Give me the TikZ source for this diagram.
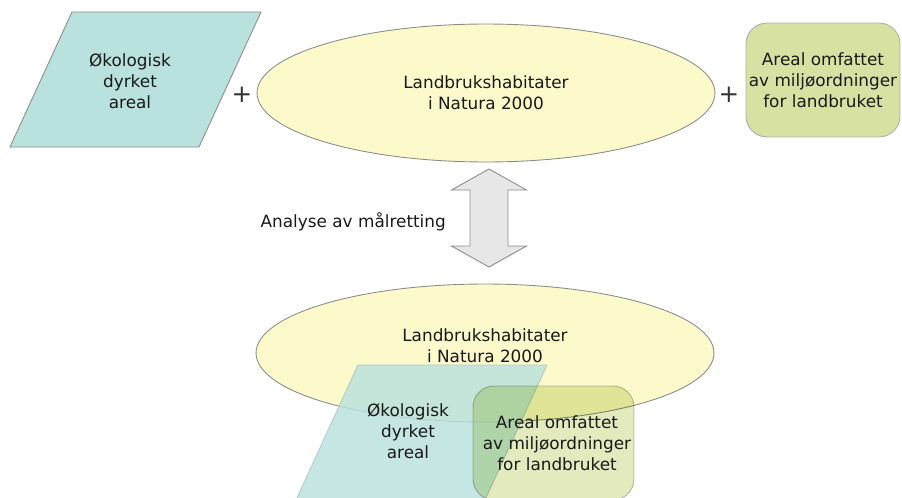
\documentclass[tikz,border=0pt]{standalone}
\usepackage{fontspec}
\setmainfont{DejaVu Sans}
\usepackage{xcolor}
\definecolor{turkis}{RGB}{185, 225, 222}
\definecolor{gulblek}{RGB}{252, 249, 203}
\definecolor{olivengr}{RGB}{215, 226, 162}
\definecolor{grakant}{RGB}{140, 140, 140}
\definecolor{grapil}{RGB}{231, 231, 231}
\usepackage{tikz}
\usetikzlibrary{shapes.geometric, positioning}

\tikzset{
  tekst/.style={font=\fontsize{9.6}{11.8}\selectfont, align=center, text=black!90},
  omraade/.style={draw=grakant, line width=0.5pt, fill=turkis},
  habitat/.style={draw=grakant, line width=0.5pt, fill=gulblek, ellipse,
    minimum width=9.16cm, minimum height=2.76cm, inner sep=0pt, tekst},
  ordning/.style={draw=grakant!70, line width=0.5pt, fill=olivengr,
    rounded corners=0.42cm, minimum width=3.08cm, minimum height=2.28cm,
    inner sep=0pt, tekst},
  pluss/.style={font=\fontsize{14}{16}\selectfont, text=black!80},
}

\begin{document}
\begin{tikzpicture}[x=0.02cm, y=-0.02cm]
            \useasboundingbox (0,0) rectangle (902,497);
            \clip (0,0) rectangle (902,497);

            % Fila de arriba
            \draw[omraade] (72,12) -- (261,12) -- (199,147) -- (10,147) -- cycle;
            \node[tekst] (oko) at (130,81) {Økologisk\\dyrket\\areal};
            \node[habitat] (natura) at (486,93) {Landbrukshabitater\\i Natura 2000};
            \node[ordning] (miljo) at (823,80) {Areal omfattet\\av miljøordninger\\for landbruket};
            \node[pluss] (pluss1) at (242,95) {+};
            \node[pluss] (pluss2) at (729,95) {+};

            % Flecha doble
            \draw[draw=grakant, fill=grapil, line width=0.5pt]
              (489,169) coordinate (pila) -- (526.5,190) -- (508,190) -- (508,246) -- (526.5,246)
              -- (489,267) coordinate (pilb) -- (451.5,246) -- (470,246) -- (470,190) -- (451.5,190) -- cycle;
            \node[tekst, anchor=east] (analyse) at (452,222) {Analyse av målretting};

            % Solapamiento abajo
            \node[habitat] (natura2) at (485,353) {};
            \node[tekst] (naturatekst) at ([yshift=0.14cm]natura2.center) {Landbrukshabitater\\i Natura 2000};
            \draw[omraade, draw=turkis!70!gray, opacity=0.82] (358,365) -- (547,365) -- (485,500) -- (296,500) -- cycle;
            \node[tekst] (okotekst) at (408,431) {Økologisk\\dyrket\\areal};
            \begin{scope}[blend mode=multiply]
              \node[ordning, fill opacity=0.7, draw opacity=0.8, minimum width=3.22cm] (miljo2) at (553.5,443) {};
            \end{scope}
            \node[tekst] (miljotekst) at ([xshift=0.07cm]miljo2.center) {Areal omfattet\\av miljøordninger\\for landbruket};
        \end{tikzpicture}
\end{document}
